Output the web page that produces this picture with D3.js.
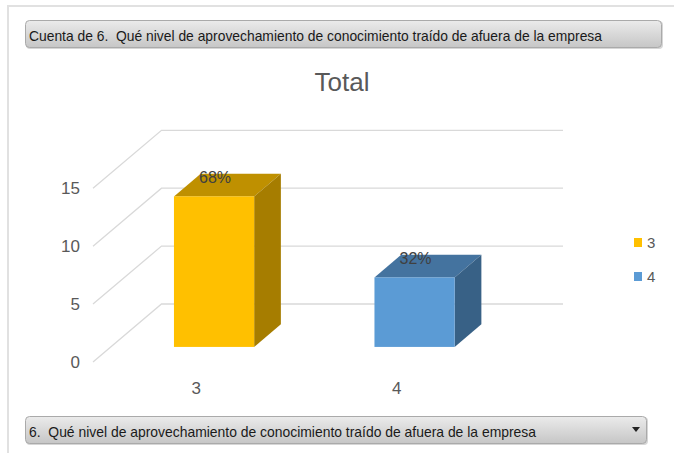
<!DOCTYPE html>
<html>
<head>
<meta charset="utf-8">
<script src="https://cdn.jsdelivr.net/npm/d3@7"></script>
<style>
  html, body { margin: 0; padding: 0; background: #fff; }
  svg { display: block; font-family: "Liberation Sans Narrow", "Liberation Sans", Arial, sans-serif; }
</style>
</head>
<body>
<div id="chart"></div>
<script>
const categories = ["3", "4"];
const counts = [13, 6];
const yTicks = [0, 5, 10, 15];
const title = "Total";
const headerText = "Cuenta de 6.\u00a0\u00a0Qué nivel de aprovechamiento de conocimiento traído de afuera de la empresa";
const fieldText = "6.\u00a0\u00a0Qué nivel de aprovechamiento de conocimiento traído de afuera de la empresa";

const width = 674;
const height = 453;

const palette = [
  { front: "#FFC000", top: "#BF9000", side: "#A67D00" },
  { front: "#5B9BD5", top: "#44739F", side: "#386186" }
];

// 3D floor: front edge and how far the back wall is shifted
const depthX = 68.5;
const depthY = 58;
const barDepth = [0.26, 0.65];

const svg = d3.select("#chart")
  .append("svg")
  .attr("width", width)
  .attr("height", height)
  .attr("viewBox", [0, 0, width, height]);

// outer frame
svg.append("path")
  .attr("d", `M8,${height} V6 H${width}`)
  .attr("fill", "none")
  .attr("stroke", "#e1e1e1")
  .attr("stroke-width", 2);

const defs = svg.append("defs");
const grad = defs.append("linearGradient")
  .attr("id", "btn")
  .attr("x1", "0%").attr("x2", "0%")
  .attr("y1", "0%").attr("y2", "100%");
grad.append("stop").attr("offset", "0%").style("stop-color", "#ebebeb");
grad.append("stop").attr("offset", "100%").style("stop-color", "#c6c6c6");

function button(x, y, w, h, label, textWidth) {
  const g = svg.append("g");
  g.append("rect")
    .attr("x", x + 1).attr("y", y + 1)
    .attr("width", w).attr("height", h)
    .attr("rx", 4)
    .attr("fill", "#d6d6d6");
  g.append("rect")
    .attr("x", x + 0.5).attr("y", y + 0.5)
    .attr("width", w - 1).attr("height", h - 1)
    .attr("rx", 4)
    .attr("fill", "url(#btn)")
    .attr("stroke", "#aaaaaa");
  g.append("text")
    .attr("x", x + 4)
    .attr("y", y + 21)
    .attr("font-size", 14.5)
    .attr("fill", "#1a1a1a")
    .attr("textLength", textWidth)
    .attr("lengthAdjust", "spacingAndGlyphs")
    .text(label);
  return g;
}

button(25, 20, 637, 28, headerText, 573);
const field = button(25, 416, 622, 28, fieldText, 507);
field.append("path")
  .attr("d", "M632,427 h8 l-4,5 z")
  .attr("fill", "#222");

// title
svg.append("text")
  .attr("x", 342)
  .attr("y", 91)
  .attr("text-anchor", "middle")
  .attr("font-size", 26)
  .attr("fill", "#595959")
  .text(title);

// scales
const y = d3.scaleLinear()
  .domain([0, 15])
  .range([362, 188.3]);

const x = d3.scaleBand()
  .domain(categories)
  .range([96, 497])
  .paddingInner(0.6)
  .paddingOuter(0.3);

const depth = d3.scaleLinear().domain([0, 1]).range([0, 1]);
const dx = (t) => depthX * depth(t);
const dy = (t) => depthY * depth(t);

const gridRight = 563;
const x0 = 93;

// gridlines: side wall diagonal + back wall line
const grid = svg.append("g")
  .attr("stroke", "#d9d9d9")
  .attr("stroke-width", 1.3)
  .attr("fill", "none");

grid.selectAll("path")
  .data(yTicks)
  .join("path")
  .attr("d", (v) => `M${x0},${y(v)} L${x0 + dx(1)},${y(v) - dy(1)} H${gridRight}`);

// y tick labels
const yAxis = svg.append("g")
  .attr("transform", "translate(80,0)")
  .call(d3.axisLeft(y).tickValues(yTicks).tickSize(0).tickPadding(0));
yAxis.select(".domain").remove();
yAxis.selectAll("text")
  .attr("font-family", null)
  .attr("font-size", 17)
  .attr("fill", "#595959");

// x category labels
const xAxis = svg.append("g")
  .attr("transform", "translate(0,382)")
  .call(d3.axisBottom(x).tickSize(0).tickPadding(0));
xAxis.select(".domain").remove();
xAxis.selectAll("text")
  .attr("font-family", null)
  .attr("font-size", 17)
  .attr("fill", "#595959");

// 3D bars
const total = d3.sum(counts);
const bars = categories.map((c, i) => ({ cat: c, value: counts[i], color: palette[i] }));

const barG = svg.append("g");
bars.forEach((d) => {
  const f = barDepth[0], b = barDepth[1];
  const left = x(d.cat) + dx(f);
  const right = left + x.bandwidth();
  const bottom = y(0) - dy(f);
  const top = y(d.value) - dy(f);
  const ox = dx(b) - dx(f);
  const oy = dy(b) - dy(f);

  // top face
  barG.append("path")
    .attr("d", `M${left},${top} L${left + ox},${top - oy} H${right + ox} L${right},${top} Z`)
    .attr("fill", d.color.top);
  // side face
  barG.append("path")
    .attr("d", `M${right},${top} L${right + ox},${top - oy} V${bottom - oy} L${right},${bottom} Z`)
    .attr("fill", d.color.side);
  // front face
  barG.append("rect")
    .attr("x", left)
    .attr("y", top)
    .attr("width", x.bandwidth())
    .attr("height", bottom - top)
    .attr("fill", d.color.front);

  // percentage label
  barG.append("text")
    .attr("x", (left + right) / 2 + 1)
    .attr("y", top - oy + 9)
    .attr("text-anchor", "middle")
    .attr("font-size", 16)
    .attr("fill", "#404040")
    .text(d3.format(".0%")(d.value / total));
});

// legend
const legend = svg.append("g")
  .attr("transform", "translate(634,238)");
const item = legend.selectAll("g")
  .data(bars)
  .join("g")
  .attr("transform", (d, i) => `translate(0,${i * 34})`);
item.append("rect")
  .attr("width", 8)
  .attr("height", 9)
  .attr("fill", (d) => d.color.front);
item.append("text")
  .attr("x", 13)
  .attr("y", 10)
  .attr("font-size", 15)
  .attr("fill", "#595959")
  .text((d) => d.cat);
</script>
</body>
</html>
